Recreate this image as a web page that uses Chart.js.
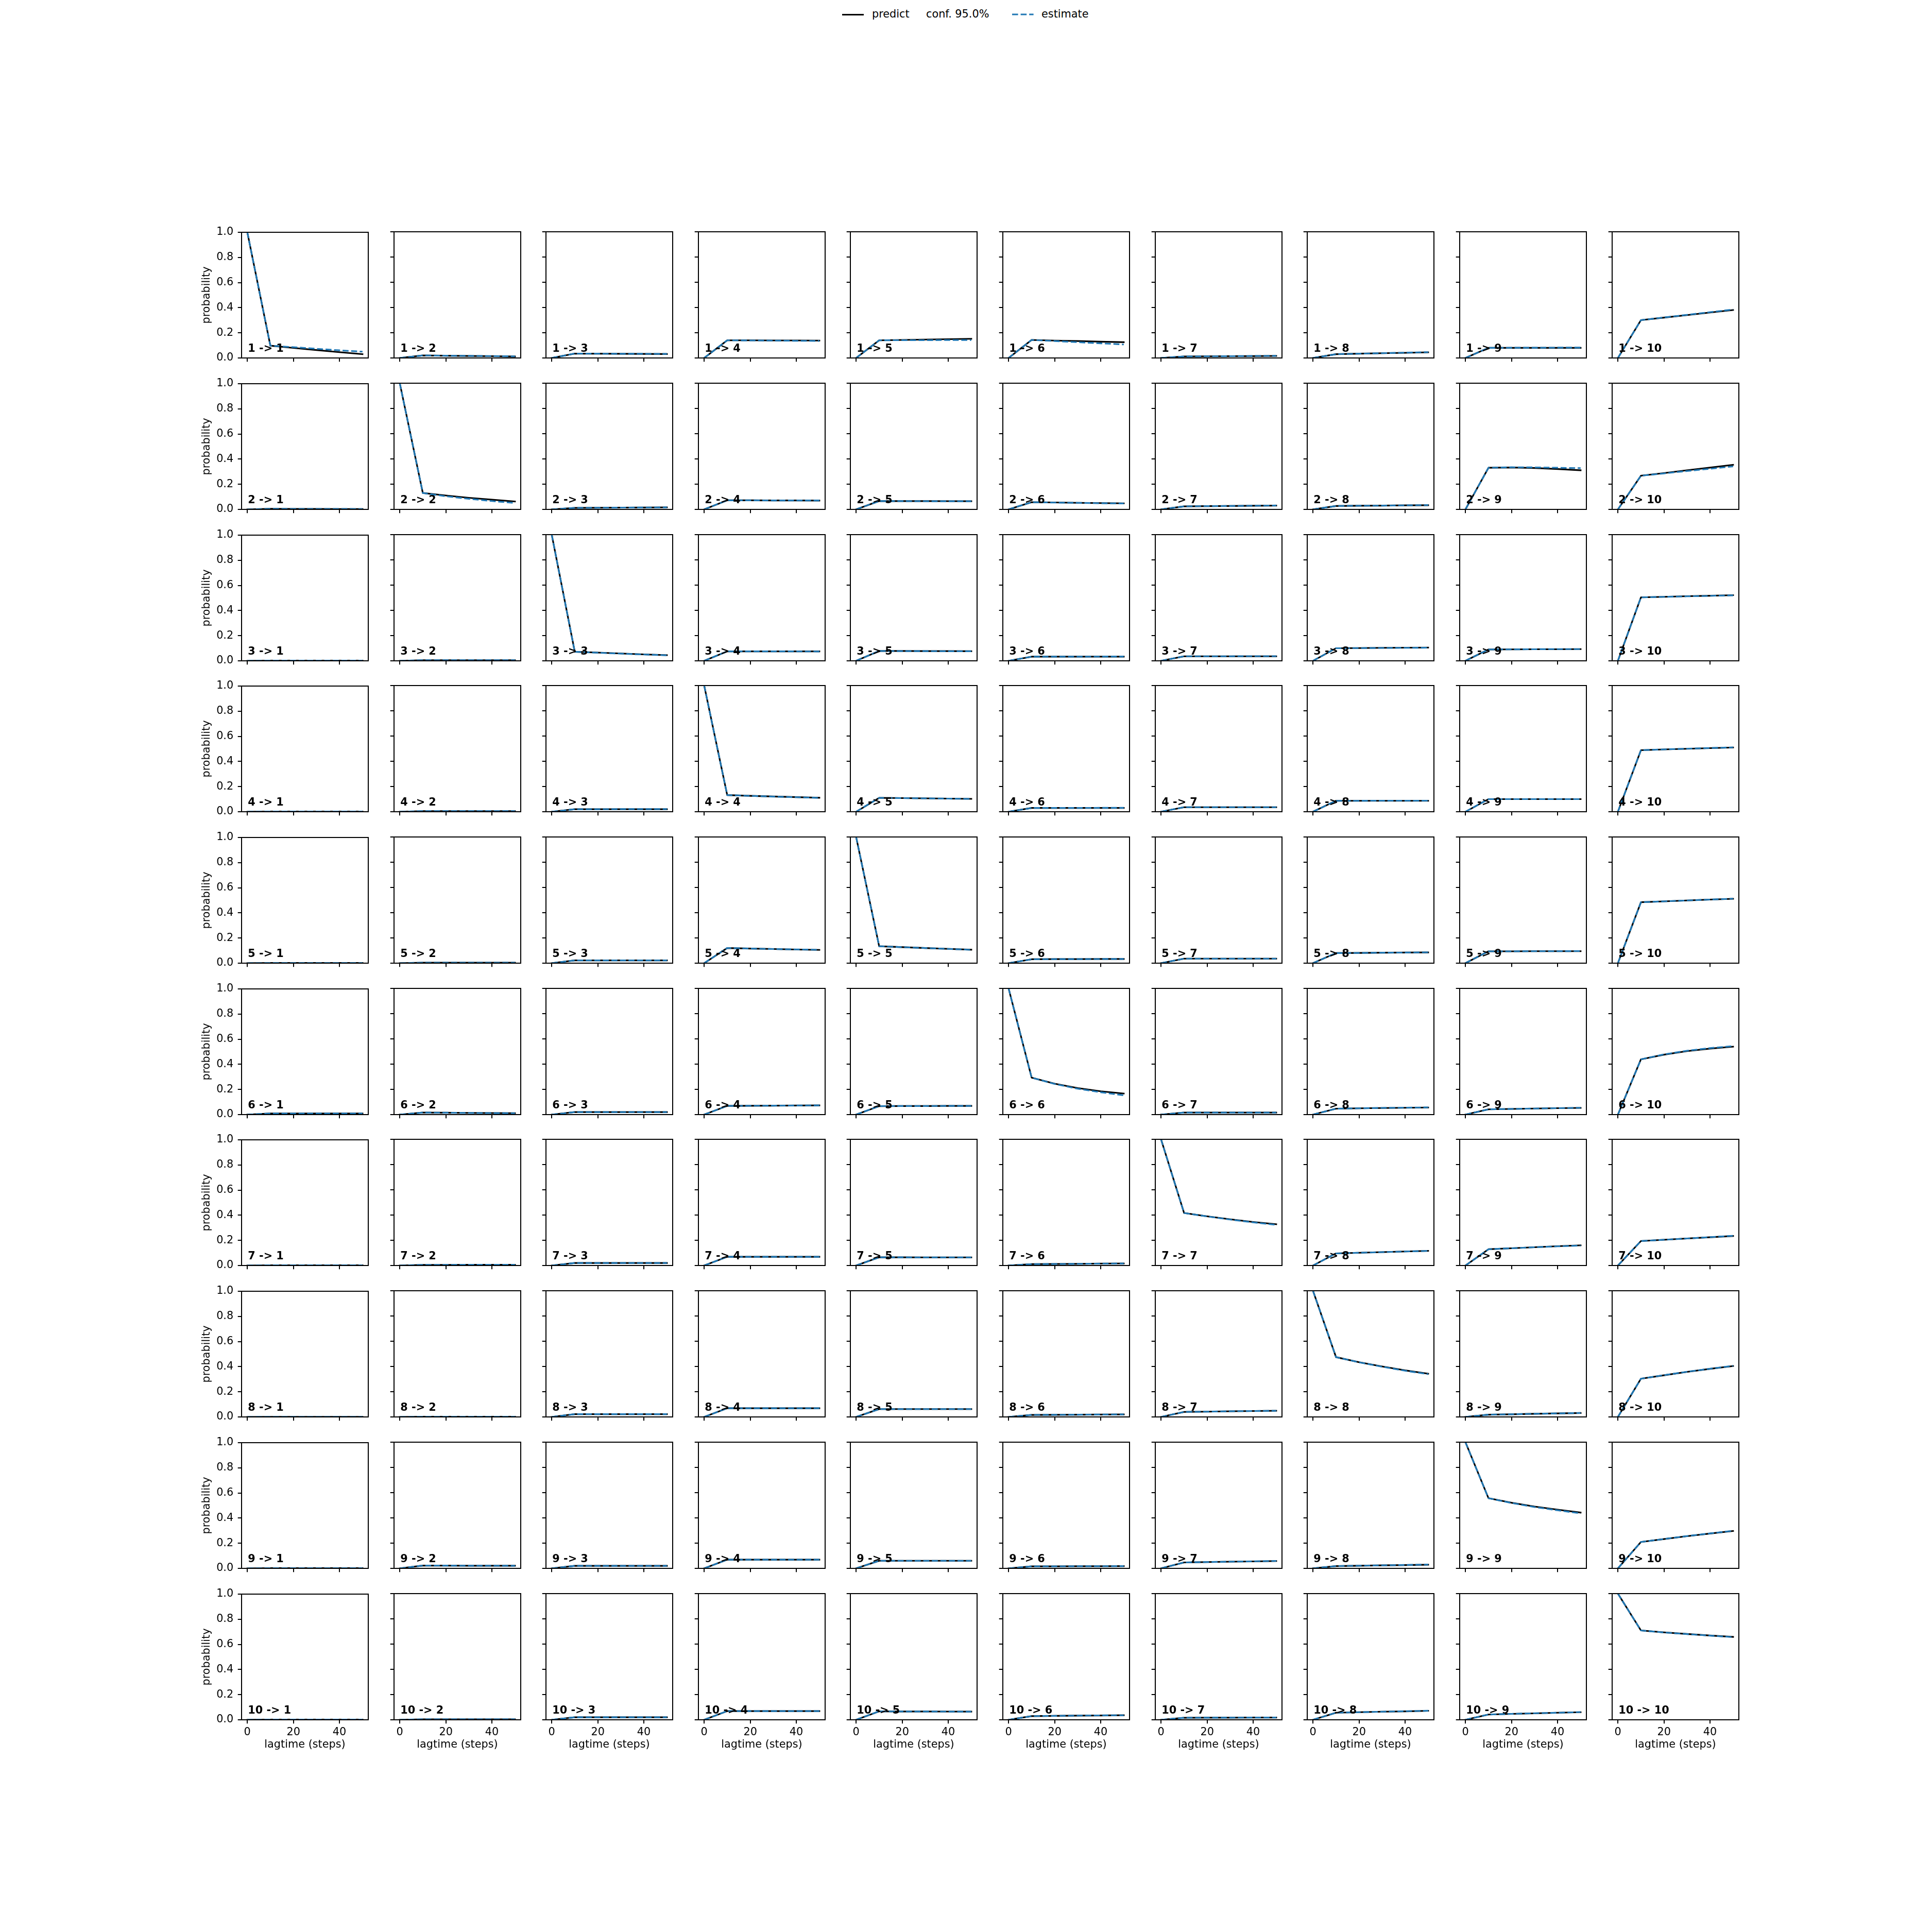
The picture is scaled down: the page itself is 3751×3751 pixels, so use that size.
<!DOCTYPE html>
<html>
<head>
<meta charset="utf-8">
<script src="https://cdn.jsdelivr.net/npm/chart.js@4.4.0/dist/chart.umd.min.js"></script>
<style>
    body { margin: 0; width: 3751px; height: 3751px; background: #fff; position: relative; overflow: hidden; font-family: 'DejaVu Sans'; }
    canvas { position: absolute; }
    .lt { position: absolute; top: 17.2px; font-size: 20.8px; line-height: 20.8px; color: #000; white-space: nowrap; }
</style>
</head>
<body>

<div id="legend">
    <div style="position:absolute; left:1635px; top:26.6px; width:42px; height:3.1px; background:#000"></div>
    <span class="lt" style="left:1693px">predict</span>
    <span class="lt" style="left:1798px">conf. 95.0%</span>
    <svg style="position:absolute; left:1965px; top:23px" width="42" height="10">
        <line x1="0" y1="5" x2="41.6" y2="5" stroke="#1f77b4" stroke-width="3.1" stroke-dasharray="11.6 5"></line>
    </svg>
    <span class="lt" style="left:2022px">estimate</span>
</div>

<script>
// lag times and axis ticks
const lagtimes = [0, 10, 20, 30, 40, 50];
const states = [1, 2, 3, 4, 5, 6, 7, 8, 9, 10];
const xTicks = [0, 20, 40];
const yTicks = [0, 0.2, 0.4, 0.6, 0.8, 1.0];

// predicted transition probabilities, one row per start state (to states 1..10)
const predictFrom1 = [
    [1, 0.098, 0.080, 0.063, 0.046, 0.030],
    [0, 0.020, 0.018, 0.016, 0.014, 0.012],
    [0, 0.035, 0.034, 0.033, 0.032, 0.031],
    [0, 0.140, 0.140, 0.139, 0.139, 0.138],
    [0, 0.140, 0.143, 0.146, 0.149, 0.152],
    [0, 0.143, 0.138, 0.134, 0.129, 0.125],
    [0, 0.012, 0.013, 0.014, 0.015, 0.016],
    [0, 0.030, 0.034, 0.038, 0.041, 0.045],
    [0, 0.080, 0.080, 0.080, 0.080, 0.080],
    [0, 0.300, 0.320, 0.340, 0.360, 0.380]
];
const predictFrom2 = [
    [0, 0.005, 0.004, 0.004, 0.003, 0.003],
    [1, 0.130, 0.110, 0.092, 0.077, 0.063],
    [0, 0.012, 0.013, 0.014, 0.015, 0.016],
    [0, 0.072, 0.072, 0.071, 0.071, 0.070],
    [0, 0.066, 0.066, 0.066, 0.065, 0.065],
    [0, 0.057, 0.055, 0.052, 0.050, 0.048],
    [0, 0.024, 0.026, 0.027, 0.029, 0.030],
    [0, 0.027, 0.029, 0.030, 0.032, 0.033],
    [0, 0.330, 0.332, 0.328, 0.320, 0.310],
    [0, 0.267, 0.288, 0.310, 0.331, 0.353]
];
const predictFrom3 = [
    [0, 0.002, 0.002, 0.002, 0.002, 0.002],
    [0, 0.005, 0.005, 0.005, 0.005, 0.005],
    [1, 0.072, 0.065, 0.058, 0.051, 0.045],
    [0, 0.075, 0.075, 0.075, 0.075, 0.075],
    [0, 0.078, 0.078, 0.077, 0.077, 0.076],
    [0, 0.033, 0.033, 0.033, 0.033, 0.033],
    [0, 0.036, 0.036, 0.036, 0.036, 0.036],
    [0, 0.100, 0.101, 0.103, 0.104, 0.105],
    [0, 0.090, 0.091, 0.092, 0.092, 0.093],
    [0, 0.503, 0.507, 0.512, 0.516, 0.520]
];
const predictFrom4 = [
    [0, 0.002, 0.002, 0.002, 0.002, 0.002],
    [0, 0.005, 0.005, 0.005, 0.005, 0.005],
    [0, 0.020, 0.020, 0.020, 0.020, 0.020],
    [1, 0.132, 0.126, 0.121, 0.116, 0.111],
    [0, 0.110, 0.108, 0.106, 0.104, 0.102],
    [0, 0.030, 0.030, 0.030, 0.030, 0.030],
    [0, 0.036, 0.036, 0.036, 0.036, 0.036],
    [0, 0.087, 0.087, 0.087, 0.087, 0.087],
    [0, 0.100, 0.100, 0.100, 0.100, 0.100],
    [0, 0.488, 0.494, 0.499, 0.504, 0.509]
];
const predictFrom5 = [
    [0, 0.002, 0.002, 0.002, 0.002, 0.002],
    [0, 0.004, 0.004, 0.004, 0.004, 0.004],
    [0, 0.022, 0.022, 0.022, 0.022, 0.022],
    [0, 0.120, 0.116, 0.112, 0.108, 0.105],
    [1, 0.134, 0.127, 0.120, 0.113, 0.107],
    [0, 0.031, 0.032, 0.032, 0.033, 0.033],
    [0, 0.036, 0.036, 0.036, 0.036, 0.036],
    [0, 0.080, 0.081, 0.083, 0.084, 0.085],
    [0, 0.094, 0.094, 0.095, 0.095, 0.095],
    [0, 0.483, 0.490, 0.497, 0.504, 0.510]
];
const predictFrom6 = [
    [0, 0.009, 0.009, 0.009, 0.009, 0.009],
    [0, 0.016, 0.015, 0.013, 0.012, 0.011],
    [0, 0.020, 0.020, 0.020, 0.020, 0.020],
    [0, 0.069, 0.070, 0.071, 0.072, 0.073],
    [0, 0.067, 0.068, 0.068, 0.069, 0.069],
    [1, 0.293, 0.245, 0.210, 0.185, 0.167],
    [0, 0.016, 0.016, 0.016, 0.016, 0.016],
    [0, 0.047, 0.050, 0.052, 0.054, 0.056],
    [0, 0.042, 0.045, 0.048, 0.051, 0.053],
    [0, 0.438, 0.475, 0.503, 0.523, 0.538]
];
const predictFrom7 = [
    [0, 0.002, 0.002, 0.002, 0.002, 0.002],
    [0, 0.005, 0.005, 0.006, 0.006, 0.006],
    [0, 0.020, 0.020, 0.020, 0.020, 0.020],
    [0, 0.069, 0.069, 0.069, 0.069, 0.069],
    [0, 0.065, 0.065, 0.064, 0.064, 0.064],
    [0, 0.011, 0.012, 0.013, 0.015, 0.016],
    [1, 0.416, 0.390, 0.366, 0.345, 0.327],
    [0, 0.096, 0.101, 0.106, 0.111, 0.116],
    [0, 0.129, 0.137, 0.145, 0.153, 0.160],
    [0, 0.194, 0.204, 0.214, 0.224, 0.234]
];
const predictFrom8 = [
    [0, 0.001, 0.001, 0.001, 0.001, 0.001],
    [0, 0.002, 0.002, 0.002, 0.002, 0.002],
    [0, 0.022, 0.022, 0.022, 0.022, 0.022],
    [0, 0.069, 0.069, 0.069, 0.069, 0.069],
    [0, 0.062, 0.062, 0.062, 0.062, 0.062],
    [0, 0.016, 0.017, 0.018, 0.019, 0.020],
    [0, 0.040, 0.042, 0.045, 0.047, 0.049],
    [1, 0.474, 0.434, 0.400, 0.369, 0.343],
    [0, 0.018, 0.021, 0.025, 0.028, 0.031],
    [0, 0.303, 0.330, 0.357, 0.381, 0.403]
];
const predictFrom9 = [
    [0, 0.002, 0.002, 0.002, 0.002, 0.002],
    [0, 0.022, 0.022, 0.021, 0.021, 0.021],
    [0, 0.020, 0.020, 0.020, 0.020, 0.020],
    [0, 0.069, 0.069, 0.069, 0.069, 0.069],
    [0, 0.060, 0.060, 0.060, 0.060, 0.060],
    [0, 0.016, 0.016, 0.017, 0.017, 0.018],
    [0, 0.047, 0.050, 0.053, 0.055, 0.058],
    [0, 0.018, 0.021, 0.024, 0.026, 0.029],
    [1, 0.556, 0.520, 0.490, 0.465, 0.442],
    [0, 0.209, 0.232, 0.255, 0.276, 0.296]
];
const predictFrom10 = [
    [0, 0.002, 0.002, 0.002, 0.002, 0.002],
    [0, 0.004, 0.004, 0.004, 0.004, 0.004],
    [0, 0.020, 0.020, 0.020, 0.020, 0.020],
    [0, 0.069, 0.069, 0.069, 0.069, 0.069],
    [0, 0.067, 0.066, 0.066, 0.065, 0.065],
    [0, 0.029, 0.031, 0.033, 0.034, 0.036],
    [0, 0.016, 0.017, 0.017, 0.018, 0.018],
    [0, 0.056, 0.060, 0.064, 0.067, 0.071],
    [0, 0.042, 0.047, 0.051, 0.056, 0.060],
    [1, 0.708, 0.693, 0.680, 0.668, 0.657]
];

// estimated transition probabilities
const estimateFrom1 = [
    [1, 0.098, 0.086, 0.073, 0.061, 0.050],
    [0, 0.020, 0.018, 0.017, 0.015, 0.013],
    [0, 0.035, 0.034, 0.033, 0.033, 0.032],
    [0, 0.140, 0.139, 0.138, 0.136, 0.135],
    [0, 0.140, 0.141, 0.141, 0.142, 0.142],
    [0, 0.143, 0.134, 0.125, 0.116, 0.107],
    [0, 0.012, 0.013, 0.014, 0.016, 0.017],
    [0, 0.030, 0.034, 0.038, 0.042, 0.046],
    [0, 0.080, 0.081, 0.081, 0.082, 0.082],
    [0, 0.300, 0.321, 0.342, 0.363, 0.384]
];
const estimateFrom2 = [
    [0, 0.005, 0.004, 0.004, 0.004, 0.003],
    [1, 0.130, 0.104, 0.084, 0.066, 0.051],
    [0, 0.012, 0.013, 0.014, 0.015, 0.016],
    [0, 0.072, 0.072, 0.071, 0.071, 0.071],
    [0, 0.066, 0.066, 0.065, 0.065, 0.065],
    [0, 0.057, 0.054, 0.052, 0.049, 0.047],
    [0, 0.024, 0.026, 0.027, 0.029, 0.031],
    [0, 0.027, 0.029, 0.030, 0.032, 0.034],
    [0, 0.330, 0.334, 0.333, 0.330, 0.327],
    [0, 0.267, 0.285, 0.304, 0.322, 0.341]
];
const estimateFrom3 = [
    [0, 0.002, 0.002, 0.002, 0.002, 0.002],
    [0, 0.005, 0.005, 0.005, 0.005, 0.005],
    [1, 0.072, 0.064, 0.057, 0.050, 0.044],
    [0, 0.075, 0.075, 0.075, 0.075, 0.074],
    [0, 0.078, 0.077, 0.077, 0.076, 0.076],
    [0, 0.033, 0.033, 0.033, 0.034, 0.034],
    [0, 0.036, 0.036, 0.036, 0.037, 0.037],
    [0, 0.100, 0.101, 0.102, 0.103, 0.104],
    [0, 0.090, 0.091, 0.092, 0.093, 0.093],
    [0, 0.503, 0.507, 0.511, 0.515, 0.519]
];
const estimateFrom4 = [
    [0, 0.002, 0.002, 0.002, 0.002, 0.002],
    [0, 0.005, 0.005, 0.005, 0.005, 0.005],
    [0, 0.020, 0.020, 0.021, 0.021, 0.021],
    [1, 0.132, 0.126, 0.120, 0.115, 0.110],
    [0, 0.110, 0.108, 0.106, 0.104, 0.102],
    [0, 0.030, 0.030, 0.030, 0.031, 0.031],
    [0, 0.036, 0.036, 0.036, 0.036, 0.036],
    [0, 0.087, 0.087, 0.088, 0.088, 0.088],
    [0, 0.100, 0.100, 0.100, 0.100, 0.100],
    [0, 0.488, 0.494, 0.500, 0.505, 0.510]
];
const estimateFrom5 = [
    [0, 0.002, 0.002, 0.002, 0.002, 0.002],
    [0, 0.004, 0.004, 0.004, 0.004, 0.004],
    [0, 0.022, 0.022, 0.022, 0.022, 0.022],
    [0, 0.120, 0.116, 0.112, 0.109, 0.106],
    [1, 0.134, 0.127, 0.120, 0.113, 0.106],
    [0, 0.031, 0.032, 0.032, 0.033, 0.033],
    [0, 0.036, 0.036, 0.036, 0.036, 0.036],
    [0, 0.080, 0.081, 0.083, 0.084, 0.086],
    [0, 0.094, 0.094, 0.095, 0.095, 0.096],
    [0, 0.483, 0.490, 0.497, 0.504, 0.511]
];
const estimateFrom6 = [
    [0, 0.009, 0.009, 0.009, 0.009, 0.009],
    [0, 0.016, 0.015, 0.013, 0.012, 0.011],
    [0, 0.020, 0.020, 0.020, 0.020, 0.020],
    [0, 0.069, 0.070, 0.071, 0.072, 0.073],
    [0, 0.067, 0.068, 0.068, 0.069, 0.069],
    [1, 0.293, 0.243, 0.205, 0.177, 0.153],
    [0, 0.016, 0.016, 0.016, 0.016, 0.016],
    [0, 0.047, 0.050, 0.053, 0.055, 0.057],
    [0, 0.042, 0.045, 0.048, 0.051, 0.054],
    [0, 0.438, 0.477, 0.506, 0.527, 0.543]
];
const estimateFrom7 = [
    [0, 0.002, 0.002, 0.002, 0.002, 0.002],
    [0, 0.005, 0.005, 0.006, 0.006, 0.006],
    [0, 0.020, 0.020, 0.020, 0.020, 0.020],
    [0, 0.069, 0.069, 0.069, 0.069, 0.069],
    [0, 0.065, 0.065, 0.064, 0.064, 0.064],
    [0, 0.011, 0.012, 0.013, 0.015, 0.016],
    [1, 0.416, 0.389, 0.364, 0.342, 0.322],
    [0, 0.096, 0.101, 0.106, 0.111, 0.116],
    [0, 0.129, 0.137, 0.145, 0.152, 0.158],
    [0, 0.194, 0.204, 0.214, 0.225, 0.236]
];
const estimateFrom8 = [
    [0, 0.001, 0.001, 0.001, 0.001, 0.001],
    [0, 0.002, 0.002, 0.002, 0.002, 0.002],
    [0, 0.022, 0.022, 0.022, 0.022, 0.022],
    [0, 0.069, 0.069, 0.069, 0.069, 0.069],
    [0, 0.062, 0.062, 0.062, 0.062, 0.062],
    [0, 0.016, 0.017, 0.018, 0.019, 0.020],
    [0, 0.040, 0.042, 0.045, 0.047, 0.049],
    [1, 0.474, 0.433, 0.398, 0.366, 0.339],
    [0, 0.018, 0.021, 0.025, 0.028, 0.031],
    [0, 0.303, 0.331, 0.358, 0.382, 0.405]
];
const estimateFrom9 = [
    [0, 0.002, 0.002, 0.002, 0.002, 0.002],
    [0, 0.022, 0.022, 0.021, 0.021, 0.021],
    [0, 0.020, 0.020, 0.020, 0.020, 0.020],
    [0, 0.069, 0.069, 0.069, 0.069, 0.069],
    [0, 0.060, 0.060, 0.060, 0.060, 0.060],
    [0, 0.016, 0.016, 0.017, 0.017, 0.018],
    [0, 0.047, 0.050, 0.053, 0.056, 0.059],
    [0, 0.018, 0.021, 0.024, 0.027, 0.030],
    [1, 0.556, 0.518, 0.486, 0.460, 0.436],
    [0, 0.209, 0.233, 0.256, 0.277, 0.298]
];
const estimateFrom10 = [
    [0, 0.002, 0.002, 0.002, 0.002, 0.002],
    [0, 0.004, 0.004, 0.004, 0.004, 0.004],
    [0, 0.020, 0.020, 0.020, 0.020, 0.020],
    [0, 0.069, 0.069, 0.069, 0.069, 0.069],
    [0, 0.067, 0.066, 0.066, 0.065, 0.065],
    [0, 0.029, 0.031, 0.033, 0.035, 0.036],
    [0, 0.016, 0.017, 0.017, 0.018, 0.018],
    [0, 0.056, 0.060, 0.064, 0.068, 0.072],
    [0, 0.042, 0.047, 0.052, 0.056, 0.061],
    [1, 0.708, 0.692, 0.679, 0.667, 0.655]
];

const predictRows = [predictFrom1, predictFrom2, predictFrom3, predictFrom4, predictFrom5,
                     predictFrom6, predictFrom7, predictFrom8, predictFrom9, predictFrom10];
const estimateRows = [estimateFrom1, estimateFrom2, estimateFrom3, estimateFrom4, estimateFrom5,
                      estimateFrom6, estimateFrom7, estimateFrom8, estimateFrom9, estimateFrom10];

// grid geometry (matplotlib subplot defaults on a 3751px figure)
const FIG = 3751;
const AX_W = 0.775 * FIG / 11.8;
const AX_H = 0.77 * FIG / 11.8;
const STEP_X = AX_W * 1.2;
const STEP_Y = AX_H * 1.2;
const LEFT0 = 0.125 * FIG;
const TOP0 = 0.12 * FIG;

const PAD_L = 110, PAD_R = 20, PAD_T = 20, PAD_B = 75;
const AREA_W = 246, AREA_H = 245;
const FONT = 'DejaVu Sans';

function toPoints(values) {
    return lagtimes.map((x, k) => ({ x: x, y: values[k] }));
}

// frame around the plot area and the "i -> j" label
function makeDecor(label) {
    return {
        id: 'panelDecor',
        afterDatasetsDraw(chart) {
            const { ctx, chartArea: a } = chart;
            ctx.save();
            ctx.strokeStyle = '#000';
            ctx.lineWidth = 2;
            ctx.strokeRect(a.left, a.top, a.right - a.left, a.bottom - a.top);
            ctx.fillStyle = '#000';
            ctx.font = 'bold 20.8px "' + FONT + '"';
            ctx.textBaseline = 'alphabetic';
            ctx.textAlign = 'left';
            ctx.fillText(label, a.left + 0.05 * (a.right - a.left), a.bottom - 0.05 * (a.bottom - a.top));
            ctx.restore();
        }
    };
}

const tickGrid = {
    display: true,
    drawOnChartArea: false,
    drawTicks: true,
    tickLength: 7.3,
    color: '#000',
    lineWidth: 2
};

for (let r = 0; r < states.length; r++) {
    for (let c = 0; c < states.length; c++) {
        const canvas = document.createElement('canvas');
        canvas.width = PAD_L + AREA_W + PAD_R;
        canvas.height = PAD_T + AREA_H + PAD_B;
        canvas.style.left = (Math.round(LEFT0 + c * STEP_X) - PAD_L) + 'px';
        canvas.style.top = (Math.round(TOP0 + r * STEP_Y) - PAD_T) + 'px';
        document.body.appendChild(canvas);

        const firstCol = c === 0;
        const lastRow = r === states.length - 1;

        new Chart(canvas, {
            type: 'line',
            data: {
                datasets: [
                    {
                        label: 'predict',
                        data: toPoints(predictRows[r][c]),
                        borderColor: '#000000',
                        borderWidth: 3.1,
                        borderCapStyle: 'square',
                        borderJoinStyle: 'round',
                        pointRadius: 0,
                        tension: 0,
                        fill: false,
                        clip: 0,
                        order: 1
                    },
                    {
                        label: 'estimate',
                        data: toPoints(estimateRows[r][c]),
                        borderColor: '#1f77b4',
                        borderWidth: 3.1,
                        borderDash: [11.6, 5],
                        borderJoinStyle: 'round',
                        pointRadius: 0,
                        tension: 0,
                        fill: false,
                        clip: 0,
                        order: 0
                    }
                ]
            },
            options: {
                responsive: false,
                animation: false,
                devicePixelRatio: 1,
                layout: { padding: { top: PAD_T, right: PAD_R, left: 0, bottom: 0 } },
                plugins: {
                    legend: { display: false },
                    tooltip: { enabled: false }
                },
                scales: {
                    x: {
                        type: 'linear',
                        min: -2.5,
                        max: 52.5,
                        afterBuildTicks: s => { s.ticks = xTicks.map(v => ({ value: v })); },
                        afterFit: s => { s.height = PAD_B; },
                        grid: tickGrid,
                        border: { display: false },
                        ticks: {
                            display: lastRow,
                            autoSkip: false,
                            maxRotation: 0,
                            padding: 5,
                            color: '#000',
                            font: { family: FONT, size: 20.8 },
                            callback: v => String(v)
                        },
                        title: {
                            display: lastRow,
                            text: 'lagtime (steps)',
                            color: '#000',
                            font: { family: FONT, size: 20.8 },
                            padding: { top: 0, bottom: 14 }
                        }
                    },
                    y: {
                        min: 0,
                        max: 1,
                        afterBuildTicks: s => { s.ticks = yTicks.map(v => ({ value: v })); },
                        afterFit: s => { s.width = PAD_L; },
                        grid: tickGrid,
                        border: { display: false },
                        ticks: {
                            display: firstCol,
                            padding: 8.5,
                            color: '#000',
                            font: { family: FONT, size: 20.8 },
                            callback: v => v.toFixed(1)
                        },
                        title: {
                            display: firstCol,
                            text: 'probability',
                            color: '#000',
                            font: { family: FONT, size: 20.8 },
                            padding: { top: 30.6, bottom: 0 }
                        }
                    }
                }
            },
            plugins: [makeDecor(states[r] + ' -> ' + states[c])]
        });
    }
}
</script>
</body>
</html>
